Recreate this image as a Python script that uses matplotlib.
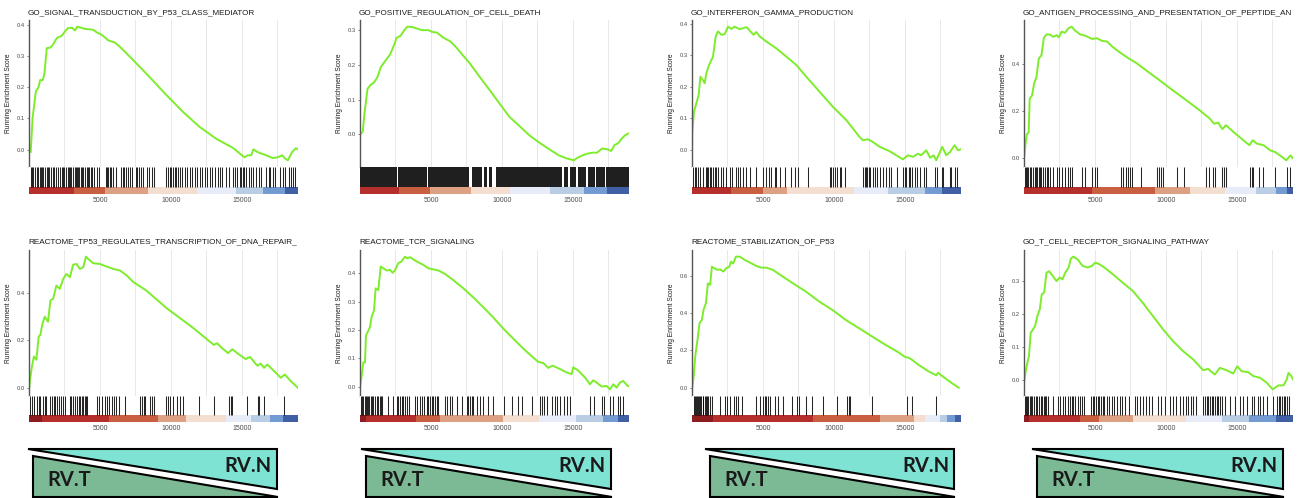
import numpy as np
import matplotlib.pyplot as plt
from matplotlib.patches import Polygon

plt.rcParams['font.family'] = ['Liberation Sans', 'DejaVu Sans']

N_GENES = 18950

# the fourth title is cut at the right edge in the source figure
titles = ["GO_SIGNAL_TRANSDUCTION_BY_P53_CLASS_MEDIATOR",
          "GO_POSITIVE_REGULATION_OF_CELL_DEATH",
          "GO_INTERFERON_GAMMA_PRODUCTION",
          "GO_ANTIGEN_PROCESSING_AND_PRESENTATION_OF_PEPTIDE_AN",
          "REACTOME_TP53_REGULATES_TRANSCRIPTION_OF_DNA_REPAIR_",
          "REACTOME_TCR_SIGNALING",
          "REACTOME_STABILIZATION_OF_P53",
          "GO_T_CELL_RECEPTOR_SIGNALING_PATHWAY"]

# running enrichment score, (rank, score)
es1 = [(0, -0.002), (120, -0.008), (250, 0.100), (480, 0.186), (670, 0.200), (785, 0.223),
       (970, 0.223), (1090, 0.245), (1250, 0.325), (1490, 0.327), (1670, 0.335), (1950, 0.357),
       (2300, 0.365), (2540, 0.379), (2730, 0.389), (3010, 0.391), (3240, 0.382), (3400, 0.394),
       (3950, 0.387), (4530, 0.384), (4770, 0.376), (5120, 0.368), (5590, 0.350), (6060, 0.343),
       (6400, 0.330), (7340, 0.287), (8510, 0.232), (9680, 0.175), (10850, 0.121), (12020, 0.073),
       (13190, 0.035), (14360, 0.006), (14950, -0.016), (15180, -0.024), (15420, -0.018),
       (15650, -0.018), (15810, 0.001), (16120, -0.008), (16710, -0.018), (17180, -0.027),
       (17530, -0.024), (17830, -0.018), (18060, -0.029), (18230, -0.034), (18530, -0.008),
       (18810, 0.005), (18930, 0.001)]
es2 = [(0, 0.0), (190, 0.007), (300, 0.055), (530, 0.131), (770, 0.143), (1000, 0.150),
       (1230, 0.165), (1470, 0.194), (1810, 0.213), (2120, 0.230), (2400, 0.257), (2580, 0.278),
       (2860, 0.284), (3090, 0.298), (3330, 0.310), (3670, 0.309), (3980, 0.305), (4370, 0.300),
       (4840, 0.300), (5070, 0.295), (5420, 0.293), (5880, 0.278), (6350, 0.268), (6810, 0.249),
       (7280, 0.226), (7740, 0.204), (8440, 0.165), (9140, 0.127), (9840, 0.088), (10530, 0.050),
       (11230, 0.024), (11930, -0.003), (12630, -0.024), (13330, -0.043), (14020, -0.061),
       (14600, -0.070), (15070, -0.075), (15300, -0.068), (15650, -0.061), (16000, -0.056),
       (16350, -0.053), (16700, -0.053), (17050, -0.041), (17400, -0.043), (17700, -0.048),
       (17930, -0.031), (18210, -0.025), (18440, -0.012), (18670, -0.003), (18900, 0.002)]
es3 = [(0, 0.0), (20, 0.056), (140, 0.120), (300, 0.147), (470, 0.173), (590, 0.232), (770, 0.221),
       (890, 0.211), (1010, 0.243), (1200, 0.269), (1480, 0.296), (1670, 0.360), (1830, 0.376),
       (2070, 0.365), (2300, 0.367), (2540, 0.391), (2770, 0.384), (3000, 0.391), (3360, 0.383),
       (3710, 0.388), (3870, 0.389), (4110, 0.376), (4340, 0.365), (4530, 0.374), (4770, 0.360),
       (5230, 0.344), (5940, 0.322), (6640, 0.296), (7350, 0.269), (8050, 0.232), (8990, 0.184),
       (9930, 0.136), (10870, 0.094), (11810, 0.040), (12040, 0.030), (12390, 0.033),
       (12750, 0.024), (13220, 0.009), (13920, -0.005), (14390, -0.018), (14860, -0.031),
       (15210, -0.018), (15560, -0.023), (15920, -0.013), (16150, -0.018), (16500, -0.002),
       (16780, -0.026), (17020, -0.018), (17210, -0.034), (17630, 0.009), (17910, -0.018),
       (18190, -0.007), (18500, 0.014), (18730, -0.002), (18920, 0.001)]
es4 = [(0, -0.004), (95, 0.052), (190, 0.098), (330, 0.109), (400, 0.251), (570, 0.265),
       (710, 0.315), (880, 0.343), (1040, 0.421), (1230, 0.435), (1400, 0.509), (1590, 0.523),
       (1820, 0.523), (2060, 0.513), (2300, 0.520), (2460, 0.511), (2650, 0.535), (2890, 0.530),
       (3130, 0.549), (3360, 0.556), (3550, 0.542), (3960, 0.523), (4310, 0.518), (4790, 0.504),
       (5140, 0.507), (5500, 0.496), (5850, 0.493), (6210, 0.472), (6680, 0.450), (7390, 0.421),
       (7870, 0.404), (8580, 0.372), (9530, 0.330), (10470, 0.287), (11420, 0.245),
       (12370, 0.202), (13080, 0.167), (13390, 0.145), (13670, 0.150), (13980, 0.122),
       (14220, 0.139), (14740, 0.111), (15450, 0.075), (15880, 0.054), (16110, 0.075),
       (16400, 0.061), (16870, 0.054), (17350, 0.032), (17700, 0.025), (18180, 0.004),
       (18480, -0.010), (18770, 0.011), (18940, -0.001)]
es5 = [(0, -0.007), (95, 0.042), (210, 0.091), (350, 0.132), (520, 0.118), (680, 0.216),
       (800, 0.223), (940, 0.269), (1110, 0.300), (1340, 0.279), (1510, 0.369), (1700, 0.376),
       (1930, 0.432), (2170, 0.418), (2410, 0.460), (2640, 0.481), (2880, 0.467), (3110, 0.520),
       (3350, 0.523), (3580, 0.502), (3820, 0.509), (4010, 0.554), (4250, 0.540), (4530, 0.526),
       (5000, 0.523), (5470, 0.512), (5940, 0.502), (6420, 0.495), (6890, 0.474), (7360, 0.446),
       (7830, 0.428), (8300, 0.409), (9010, 0.372), (9720, 0.335), (10660, 0.293),
       (11600, 0.251), (12310, 0.216), (13020, 0.181), (13250, 0.188), (13610, 0.167),
       (14030, 0.146), (14320, 0.163), (14670, 0.146), (15260, 0.121), (15570, 0.130),
       (16080, 0.093), (16320, 0.102), (16560, 0.084), (16790, 0.098), (17150, 0.077),
       (17740, 0.042), (18020, 0.056), (18440, 0.028), (18940, 0.0)]
es6 = [(0, -0.004), (120, 0.038), (230, 0.085), (350, 0.085), (420, 0.180), (590, 0.198),
       (700, 0.210), (820, 0.246), (990, 0.270), (1100, 0.347), (1290, 0.341), (1460, 0.424),
       (1640, 0.418), (1880, 0.410), (2110, 0.412), (2300, 0.402), (2460, 0.410), (2700, 0.436),
       (2930, 0.442), (3170, 0.459), (3330, 0.453), (3520, 0.457), (3990, 0.442), (4460, 0.430),
       (4810, 0.418), (5160, 0.414), (5520, 0.410), (5990, 0.398), (6570, 0.376), (7280, 0.347),
       (7980, 0.315), (8690, 0.280), (9390, 0.244), (10090, 0.205), (10800, 0.169),
       (11500, 0.134), (12210, 0.102), (12560, 0.087), (12910, 0.083), (13260, 0.066),
       (13570, 0.074), (14080, 0.062), (14550, 0.050), (14910, 0.044), (15020, 0.068),
       (15380, 0.056), (15850, 0.032), (16200, 0.008), (16430, 0.022), (16670, 0.014),
       (17020, 0.0), (17370, 0.002), (17610, -0.010), (17840, 0.008), (18080, -0.004),
       (18310, 0.014), (18540, 0.020), (18780, 0.006), (18940, 0.0)]
es7 = [(0, -0.009), (120, 0.062), (230, 0.169), (420, 0.275), (530, 0.346), (700, 0.364),
       (810, 0.417), (980, 0.453), (1120, 0.559), (1280, 0.551), (1400, 0.648), (1580, 0.640),
       (1790, 0.631), (1980, 0.634), (2210, 0.622), (2400, 0.640), (2630, 0.648), (2740, 0.675),
       (2910, 0.666), (3090, 0.702), (3370, 0.702), (3720, 0.684), (4190, 0.666), (4530, 0.652),
       (4880, 0.643), (5230, 0.643), (5700, 0.631), (6400, 0.595), (7090, 0.560), (8020, 0.515),
       (8950, 0.462), (9880, 0.417), (10810, 0.364), (11740, 0.320), (12670, 0.275),
       (13600, 0.231), (14530, 0.190), (15000, 0.165), (15280, 0.160), (15470, 0.151),
       (15930, 0.124), (16630, 0.089), (17210, 0.066), (17330, 0.080), (17790, 0.053),
       (18260, 0.027), (18790, 0.0)]
es8 = [(0, -0.008), (120, 0.027), (240, 0.053), (350, 0.073), (470, 0.143), (640, 0.154),
       (780, 0.164), (940, 0.194), (1110, 0.214), (1250, 0.260), (1420, 0.265), (1580, 0.325),
       (1770, 0.330), (2000, 0.317), (2290, 0.300), (2520, 0.311), (2710, 0.305), (2900, 0.325),
       (3140, 0.341), (3300, 0.368), (3470, 0.374), (3770, 0.366), (4130, 0.346), (4480, 0.341),
       (4790, 0.346), (5020, 0.356), (5310, 0.351), (5660, 0.341), (6250, 0.321), (6960, 0.295),
       (7670, 0.270), (8370, 0.234), (9080, 0.194), (9790, 0.154), (10500, 0.118),
       (11200, 0.088), (11910, 0.063), (12620, 0.030), (12970, 0.034), (13440, 0.017),
       (13800, 0.037), (14270, 0.030), (14740, 0.020), (15020, 0.042), (15330, 0.027),
       (15800, 0.024), (16160, 0.012), (16630, 0.007), (17100, -0.008), (17520, -0.028),
       (17920, -0.016), (18280, -0.016), (18510, 0.002), (18630, 0.022), (18800, 0.014),
       (18990, 0.0)]

# gene-set hit positions (rank)
hits1 = [130, 245, 315, 435, 550, 620, 740, 830, 950, 1020, 1135, 1250, 1320, 1440, 1530, 1720,
         1790, 1910, 2070, 2190, 2300, 2420, 2490, 2590, 2730, 2820, 2890, 2980, 3120, 3220,
         3310, 3400, 3470, 3550, 3640, 3760, 3830, 3940, 4060, 4180, 4250, 4340, 4430, 4600,
         4760, 4950, 5420, 5510, 5600, 5700, 5810, 5930, 6120, 6450, 6590, 6680, 6820, 6990,
         7150, 7290, 7520, 7640, 7760, 7900, 8040, 8280, 8460, 8630, 8790, 9680, 9800, 9920,
         10030, 10150, 10260, 10380, 10500, 10610, 10800, 10960, 11130, 11360, 11500, 11670,
         11830, 12020, 12160, 12370, 12560, 12720, 12910, 13070, 13310, 13470, 13610, 13890,
         14080, 14360, 14540, 14660, 14830, 14940, 15060, 15180, 15290, 15480, 15640, 15810,
         15990, 16180, 16350, 16700, 16880, 16980, 17160, 17350, 17680, 17870, 18060, 18340,
         18480, 18620, 18760]
# panel 2 is so dense it reads as solid runs: (start, end)
hits2_runs = [(0, 2600), (2700, 4700), (4800, 7700), (7860, 8620), (8740, 8980), (9080, 9330),
              (9600, 14250), (14380, 14680), (14780, 15250), (15350, 15950), (16050, 16530),
              (16630, 17230), (17330, 18950)]
hits3 = [70, 190, 310, 420, 540, 780, 960, 1060, 1150, 1250, 1360, 1480, 1600, 1720, 1830, 2070,
         2190, 2420, 2660, 2840, 3080, 3240, 3410, 3600, 3780, 4070, 4490, 5010, 5240, 5430,
         5590, 5830, 5950, 6230, 6530, 7000, 7240, 7470, 8180, 9710, 9820, 9940, 10060, 10180,
         10410, 10530, 10760, 12060, 12170, 12240, 12340, 12480, 12570, 12760, 12880, 13040,
         13230, 13470, 13700, 13890, 14050, 14410, 14880, 15000, 15110, 15300, 15390, 15530,
         15700, 15860, 16050, 16330, 16470, 17110, 17230, 17580, 17700, 18170, 18280, 18520,
         18640]
hits4 = [50, 120, 210, 310, 400, 520, 640, 760, 830, 950, 1040, 1140, 1230, 1350, 1470, 1590,
         1710, 1850, 2060, 2300, 2460, 2650, 2890, 3080, 3250, 3410, 4080, 4270, 4790, 4980,
         5140, 6800, 6970, 7160, 7350, 7440, 7630, 8220, 9340, 9480, 9650, 9760, 10760, 11300,
         12800, 13030, 13320, 13440, 13980, 14080, 14220, 15930, 16040, 16160, 16520, 16830,
         17700, 18530, 18770]
hits5 = [90, 210, 350, 570, 680, 800, 990, 1110, 1230, 1510, 1630, 1770, 1860, 1980, 2120, 2240,
         2360, 2530, 2880, 2950, 3070, 3230, 3400, 3490, 3590, 3710, 3820, 3940, 4010, 4110,
         4770, 4960, 5120, 5360, 5480, 5660, 5830, 5990, 6140, 6320, 6730, 7840, 7960, 8070,
         8190, 8500, 8660, 8830, 9680, 9790, 9960, 10150, 10430, 10670, 10860, 11970, 13030,
         14090, 14210, 14330, 15340, 16100, 16210, 16570, 17980]
hits6 = [70, 160, 240, 330, 420, 520, 590, 660, 750, 850, 940, 1060, 1180, 1290, 1410, 1460,
         1530, 2000, 2350, 2590, 2700, 2820, 2940, 3060, 3170, 3340, 3480, 3880, 4040, 4230,
         4350, 4510, 4700, 4820, 4940, 5050, 5170, 5290, 5410, 5520, 5990, 6110, 6350, 6460,
         6820, 7170, 7520, 7640, 7760, 7870, 7990, 8230, 8460, 8700, 9050, 9400, 10110, 10690,
         11160, 11400, 12100, 12690, 12810, 12930, 13160, 13510, 13750, 13870, 14100, 14340,
         14570, 14760, 16220, 16450, 17040, 17200, 17630, 17810, 18210, 18330, 18520]
hits7 = [120, 190, 260, 350, 420, 490, 580, 650, 740, 810, 910, 980, 1070, 1160, 1280, 1400,
         1980, 2330, 2440, 2670, 2950, 3090, 3260, 3490, 4540, 4770, 5000, 5120, 5230, 5350,
         5470, 5820, 6050, 6440, 7050, 7400, 7560, 8030, 8440, 9260, 10230, 10930, 11050,
         11160, 12680, 15120, 15470, 17210]
hits8 = [70, 170, 240, 310, 400, 500, 590, 710, 830, 940, 1060, 1180, 1300, 1420, 1490, 1580,
         1720, 2010, 2360, 2530, 2760, 2900, 3070, 3230, 3370, 3470, 3610, 3780, 3940, 4080,
         4250, 4720, 4840, 4960, 5070, 5190, 5310, 5430, 5550, 5660, 5830, 6020, 6210, 6370,
         6540, 6730, 6910, 7150, 7430, 7790, 7950, 8140, 8380, 8570, 8800, 9040, 9440, 9680,
         9910, 10270, 10500, 10740, 10970, 11210, 11400, 11560, 11730, 11920, 12110, 12630,
         12740, 12860, 12980, 13100, 13220, 13330, 13450, 13570, 13690, 13810, 13920, 14160,
         14520, 14870, 15220, 15460, 15740, 16050, 16170, 16450, 16640, 16870, 17110, 17540,
         17820, 17940, 18050, 18170, 18290, 18410, 18530, 18640]

# ranked-list colour bar: segment edges and palette index of each segment
bar1_edges = [0, 3200, 5350, 8400, 11800, 14600, 16500, 18000, 18950]
bar1_cols = [1, 2, 3, 4, 5, 6, 7, 8]
bar2_edges = [0, 2760, 4900, 7800, 10600, 13400, 15750, 17400, 18950]
bar2_cols = [1, 2, 3, 4, 5, 6, 7, 8]
bar3_edges = [0, 2780, 5000, 6670, 11390, 13810, 16400, 17590, 18950]
bar3_cols = [1, 2, 3, 4, 5, 6, 7, 8]
bar4_edges = [0, 4820, 9230, 11660, 14180, 16350, 17750, 18550, 18950]
bar4_cols = [1, 2, 3, 4, 5, 6, 7, 8]
bar5_edges = [0, 900, 5670, 9090, 11060, 13900, 15670, 16950, 17900, 18950]
bar5_cols = [0, 1, 2, 3, 4, 5, 6, 7, 8]
bar6_edges = [0, 400, 3950, 5640, 10060, 12630, 15200, 17100, 18150, 18950]
bar6_cols = [0, 1, 2, 3, 4, 5, 6, 7, 8]
bar7_edges = [0, 1500, 8530, 13260, 15620, 16380, 17500, 17950, 18550, 18950]
bar7_cols = [0, 1, 2, 3, 4, 5, 6, 7, 8]
bar8_edges = [0, 350, 3930, 5250, 7660, 11430, 13980, 15870, 17730, 18950]
bar8_cols = [0, 1, 2, 3, 4, 5, 6, 7, 8]

yticks = [[0, 0.1, 0.2, 0.3, 0.4], [0, 0.1, 0.2, 0.3], [0, 0.1, 0.2, 0.3, 0.4], [0, 0.2, 0.4],
          [0, 0.2, 0.4], [0, 0.1, 0.2, 0.3, 0.4], [0, 0.2, 0.4, 0.6], [0, 0.1, 0.2, 0.3]]

PALETTE = ['#8c1c1f', '#b52f2c', '#c95f41', '#dea082', '#f3decf',
           '#e8ecf8', '#b9cde4', '#739bd2', '#415fa5']
LINE_GREEN = '#7ded2b'
TRI_CYAN = '#7fe3d4'
TRI_GREEN = '#7cba96'

es_all = [es1, es2, es3, es4, es5, es6, es7, es8]
hits_all = [hits1, [], hits3, hits4, hits5, hits6, hits7, hits8]
runs_all = {1: hits2_runs}
bars_all = [(bar1_edges, bar1_cols), (bar2_edges, bar2_cols), (bar3_edges, bar3_cols),
            (bar4_edges, bar4_cols), (bar5_edges, bar5_cols), (bar6_edges, bar6_cols),
            (bar7_edges, bar7_cols), (bar8_edges, bar8_cols)]

# layout in pixels --------------------------------------------------------
W, H = 1309, 498
col_left = [29, 360, 692, 1024]
panel_w = 269
row_top = [20, 250]
up_h = [147, 146]
low_h = [27, 26]
title_y = [13, 242]
BAR_FRAC = 0.27

fig = plt.figure(figsize=(W / 100, H / 100), dpi=100)


def box(left, top, w, h):
    return [left / W, 1 - (top + h) / H, w / W, h / H]


for i in range(8):
    r, c = divmod(i, 4)
    left = col_left[c]

    # running score panel
    ax = fig.add_axes(box(left, row_top[r], panel_w, up_h[r]))
    xs, ys = zip(*es_all[i])
    ax.plot(xs, ys, color=LINE_GREEN, lw=1.4, solid_joinstyle='round')
    pad = 0.05 * (max(ys) - min(ys))
    ax.set_ylim(min(ys) - pad, max(ys) + pad)
    ax.set_xlim(0, N_GENES)
    ax.set_xticks([5000, 10000, 15000])
    ax.set_xticks([2500, 7500, 12500, 17500], minor=True)
    ax.grid(axis='x', which='both', color='#e8e8e8', lw=0.7)
    ax.set_axisbelow(True)
    ax.tick_params(axis='x', which='both', length=0, labelbottom=False)
    ax.set_yticks(yticks[i])
    ax.set_yticklabels(['%.1f' % v for v in yticks[i]])
    ax.tick_params(axis='y', labelsize=4.2, length=1.5, width=0.5, pad=1.5,
                   colors='#4d4d4d')
    for s in ['top', 'right', 'bottom']:
        ax.spines[s].set_visible(False)
    ax.spines['left'].set_color('#555555')
    ax.spines['left'].set_linewidth(1.0)
    ax.set_ylabel('Running Enrichment Score', fontsize=4.8, color='#1a1a1a')
    ax.yaxis.set_label_coords(-17 / panel_w, 0.5)

    # hits + ranked list panel
    axh = fig.add_axes(box(left, row_top[r] + up_h[r], panel_w, low_h[r]))
    if i in runs_all:
        starts = [a for a, b in runs_all[i]]
        widths = [b - a for a, b in runs_all[i]]
        axh.bar(starts, 1 - BAR_FRAC, width=widths, bottom=BAR_FRAC, align='edge',
                color='black', alpha=0.88, lw=0)
    axh.vlines(hits_all[i], BAR_FRAC, 1, color='black', lw=0.75, alpha=0.85)
    edges, cols = bars_all[i]
    axh.bar(edges[:-1], BAR_FRAC, width=np.diff(edges), align='edge',
            color=[PALETTE[k] for k in cols], lw=0)
    axh.set_xlim(0, N_GENES)
    axh.set_ylim(0, 1)
    axh.set_yticks([])
    axh.set_xticks([5000, 10000, 15000])
    axh.tick_params(axis='x', length=0, labelsize=5, pad=2.5, colors='#4d4d4d')
    for s in axh.spines.values():
        s.set_visible(False)

    fig.text((left - 1) / W, 1 - title_y[r] / H, titles[i], fontsize=5.9,
             ha='left', va='center', color='#1a1a1a')

# RV.T / RV.N ranking sketches under the bottom row
axd = fig.add_axes([0, 0, 1, 1])
axd.set_xlim(0, W)
axd.set_ylim(H, 0)
axd.axis('off')
diag_x0 = [28, 361, 705, 1032]
diag_x1 = [277, 611, 954, 1283]
for x0, x1 in zip(diag_x0, diag_x1):
    axd.add_patch(Polygon([(x0, 449), (x1, 449), (x1, 489)], closed=True,
                          fc=TRI_CYAN, ec='black', lw=1.5))
    axd.add_patch(Polygon([(x0 + 5, 456), (x0 + 5, 497), (x1 + 1, 497)], closed=True,
                          fc=TRI_GREEN, ec='black', lw=1.5))
    axd.text(x0 + 19, 480, 'RV.T', fontsize=14.5, fontweight='bold', family='Lato',
             ha='left', va='center', color='#1a1a1a')
    axd.text(x1 - 5, 466, 'RV.N', fontsize=14.5, fontweight='bold', family='Lato',
             ha='right', va='center', color='#1a1a1a')

fig.savefig('out.png', dpi=100, facecolor='white')
